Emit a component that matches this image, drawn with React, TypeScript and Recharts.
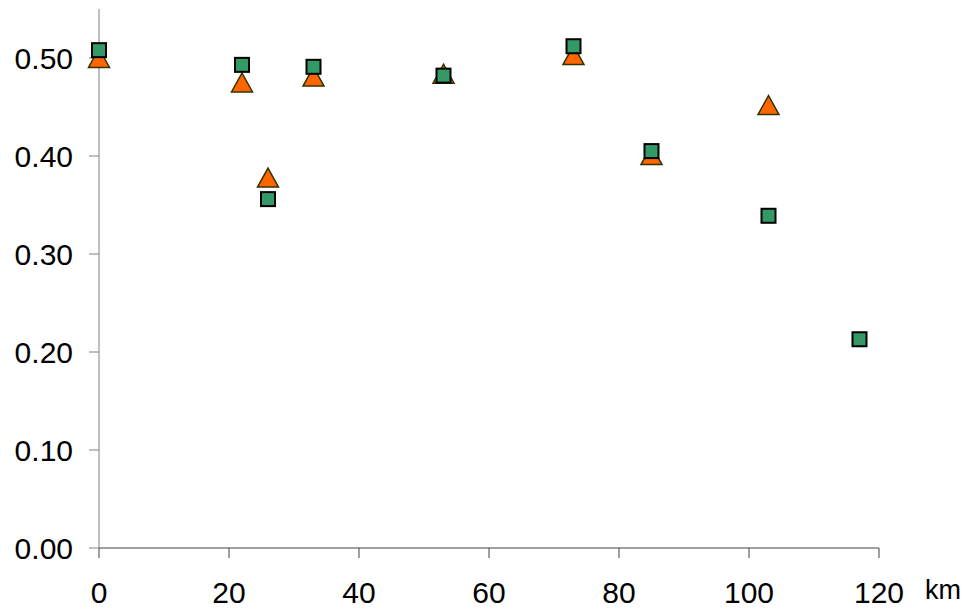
import React from 'react';
import { ScatterChart, Scatter, XAxis, YAxis, Label } from 'recharts';

const distances = [0, 22, 26, 33, 53, 73, 85, 103, 117];
const squareValues = [0.508, 0.493, 0.356, 0.491, 0.482, 0.512, 0.405, 0.339, 0.213];
const triangleDistances = [0, 22, 26, 33, 53, 73, 85, 103];
const triangleValues = [0.5, 0.475, 0.378, 0.481, 0.484, 0.503, 0.401, 0.452];

const xTicks = [0, 20, 40, 60, 80, 100, 120];
const yTicks = [0, 0.1, 0.2, 0.3, 0.4, 0.5];

const squareData = distances.map((x, i) => ({ x, y: squareValues[i] }));
const triangleData = triangleDistances.map((x, i) => ({ x, y: triangleValues[i] }));

const FONT = '"Liberation Sans", Arial, sans-serif';

// Excel-style markers, centred on their bounding box
const SquareMarker = (props: any) => {
  const { cx, cy } = props;
  return <rect x={cx - 7} y={cy - 7} width={14} height={14} fill="#339966" stroke="#000000" strokeWidth={2} />;
};

const TriangleMarker = (props: any) => {
  const { cx, cy } = props;
  const w = 10.5;
  const h = 9.5;
  return (
    <path
      d={`M${cx},${cy - h}L${cx + w},${cy + h}L${cx - w},${cy + h}Z`}
      fill="#FF6600"
      stroke="#333300"
      strokeWidth={1.5}
      strokeLinejoin="miter"
    />
  );
};

export default function App() {
  return (
    <div style={{ position: 'absolute', left: 0, top: 0, background: '#fff' }}>
      <ScatterChart width={969} height={614} margin={{ top: 9, right: 90, bottom: 0, left: 0 }}>
        <XAxis
          type="number"
          dataKey="x"
          domain={[0, 120]}
          ticks={xTicks}
          interval={0}
          height={66}
          tickSize={10}
          tickMargin={24}
          stroke="#404040"
          tick={{ fill: '#000', fontSize: 30, fontFamily: FONT }}
        >
          <Label value="km" position="right" offset={46} dy={8} fontSize={27} fill="#000" fontFamily={FONT} />
        </XAxis>
        <YAxis
          type="number"
          dataKey="y"
          domain={[0, 0.55]}
          ticks={yTicks}
          interval={0}
          width={99}
          tickSize={10}
          tickMargin={16}
          stroke="#808080"
          tickFormatter={(v: number) => v.toFixed(2)}
          tick={{ fill: '#000', fontSize: 30, fontFamily: FONT }}
        />
        <Scatter data={triangleData} shape={<TriangleMarker />} isAnimationActive={false} />
        <Scatter data={squareData} shape={<SquareMarker />} isAnimationActive={false} />
      </ScatterChart>
    </div>
  );
}
